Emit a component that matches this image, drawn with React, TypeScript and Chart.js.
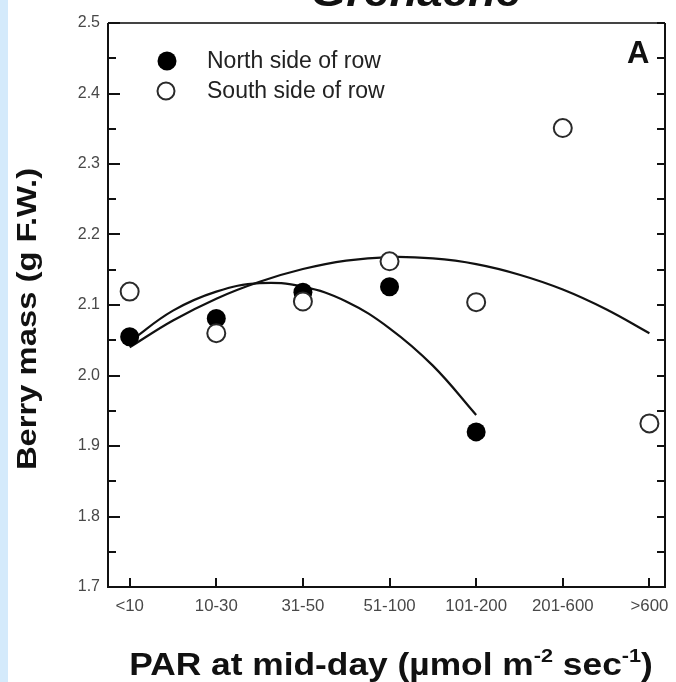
import React, { useEffect, useRef } from "react";
import { Chart, registerables } from "chart.js";

Chart.register(...registerables);

// PAR classes along the x axis
const CATEGORIES = ["<10", "10-30", "31-50", "51-100", "101-200", "201-600", ">600"];

// Mean berry mass (g F.W.) per PAR class
const NORTH_MASS = [2.055, 2.081, 2.118, 2.126, 1.92];
const SOUTH_MASS = [2.119, 2.06, 2.105, 2.162, 2.104, 2.351, 1.932];

// Fitted response curves, sampled at half-class steps
const NORTH_FIT_X = [0, 0.5, 1, 1.5, 2, 2.5, 3, 3.5, 4];
const NORTH_FIT = [2.048, 2.092, 2.119, 2.131, 2.126, 2.105, 2.067, 2.014, 1.944];
const SOUTH_FIT_X = [0, 0.5, 1, 1.5, 2, 2.5, 3, 3.5, 4, 4.5, 5, 5.5, 6];
const SOUTH_FIT = [2.04, 2.078, 2.109, 2.133, 2.151, 2.163, 2.168, 2.166, 2.158, 2.143, 2.122, 2.094, 2.06];

// Y axis ticks
const Y_MAJOR = [1.7, 1.8, 1.9, 2.0, 2.1, 2.2, 2.3, 2.4, 2.5];
const Y_MAJOR_LABELS = ["1.7", "1.8", "1.9", "2.0", "2.1", "2.2", "2.3", "2.4", "2.5"];
const Y_MINOR = [1.75, 1.85, 1.95, 2.05, 2.15, 2.25, 2.35, 2.45];

const LEGEND_LABELS = ["North side of row", "South side of row"];
const TITLE = "Grenache";
const PANEL = "A";
const Y_TITLE = "Berry mass (g F.W.)";

const FONT = "'Liberation Sans', Arial, Helvetica, sans-serif";

function stretchText(
  ctx: CanvasRenderingContext2D,
  text: string,
  x: number,
  y: number,
  sx: number,
  align: CanvasTextAlign
) {
  ctx.save();
  ctx.translate(x, y);
  ctx.scale(sx, 1);
  ctx.textAlign = align;
  ctx.fillText(text, 0, 0);
  ctx.restore();
}

const framePlugin = {
  id: "frame",
  beforeDraw(chart: any) {
    const ctx: CanvasRenderingContext2D = chart.ctx;
    ctx.save();
    ctx.fillStyle = "#ffffff";
    ctx.fillRect(0, 0, chart.width, chart.height);
    ctx.fillStyle = "#d4eafb";
    ctx.fillRect(0, 0, 8, chart.height);
    ctx.restore();
  },
  afterDraw(chart: any) {
    const ctx: CanvasRenderingContext2D = chart.ctx;
    const xs = chart.scales.x;
    const ys = chart.scales.y;
    const { left, right, top, bottom } = chart.chartArea;
    ctx.save();

    // plot frame
    ctx.strokeStyle = "#111";
    ctx.lineWidth = 2;
    ctx.beginPath();
    ctx.moveTo(left, top);
    ctx.lineTo(left, bottom);
    ctx.lineTo(right, bottom);
    ctx.lineTo(right, top);
    ctx.stroke();
    ctx.strokeStyle = "#444";
    ctx.beginPath();
    ctx.moveTo(left, top);
    ctx.lineTo(right, top);
    ctx.stroke();

    // inward ticks
    ctx.strokeStyle = "#111";
    ctx.lineWidth = 2;
    ctx.beginPath();
    Y_MAJOR.forEach((v) => {
      const py = Math.round(ys.getPixelForValue(v));
      ctx.moveTo(left, py);
      ctx.lineTo(left + 12, py);
      ctx.moveTo(right, py);
      ctx.lineTo(right - 8, py);
    });
    Y_MINOR.forEach((v) => {
      const py = Math.round(ys.getPixelForValue(v));
      ctx.moveTo(left, py);
      ctx.lineTo(left + 8, py);
      ctx.moveTo(right, py);
      ctx.lineTo(right - 8, py);
    });
    CATEGORIES.forEach((_, i) => {
      const px = Math.round(xs.getPixelForValue(i));
      ctx.moveTo(px, bottom);
      ctx.lineTo(px, bottom - 9);
    });
    ctx.stroke();

    // tick labels
    ctx.fillStyle = "#484848";
    ctx.font = `16px ${FONT}`;
    ctx.textBaseline = "middle";
    Y_MAJOR.forEach((v, i) => {
      stretchText(ctx, Y_MAJOR_LABELS[i], left - 8, ys.getPixelForValue(v), 1.0, "right");
    });
    CATEGORIES.forEach((c, i) => {
      stretchText(ctx, c, xs.getPixelForValue(i), bottom + 20, 1.05, "center");
    });

    // axis titles
    ctx.fillStyle = "#111";
    ctx.textBaseline = "alphabetic";
    ctx.font = `bold 28px ${FONT}`;
    ctx.save();
    ctx.translate(36, 319);
    ctx.rotate(-Math.PI / 2);
    ctx.scale(1.17, 1);
    ctx.textAlign = "center";
    ctx.fillText(Y_TITLE, 0, 0);
    ctx.restore();

    // x title with superscripts
    const sx = 1.14;
    const parts: [string, boolean][] = [
      ["PAR at mid-day (\u00b5mol m", false],
      ["-2", true],
      [" sec", false],
      ["-1", true],
      [")", false],
    ];
    const mainFont = `bold 31px ${FONT}`;
    const supFont = `bold 19px ${FONT}`;
    let total = 0;
    parts.forEach(([t, sup]) => {
      ctx.font = sup ? supFont : mainFont;
      total += ctx.measureText(t).width * sx;
    });
    let cx = 391 - total / 2;
    const base = 675;
    parts.forEach(([t, sup]) => {
      ctx.font = sup ? supFont : mainFont;
      stretchText(ctx, t, cx, sup ? base - 13 : base, sx, "left");
      cx += ctx.measureText(t).width * sx;
    });

    // chart title (runs off the top edge)
    ctx.font = `italic bold 40px ${FONT}`;
    stretchText(ctx, TITLE, 416, 6, 1.14, "center");

    // panel letter
    ctx.font = `bold 31px ${FONT}`;
    stretchText(ctx, PANEL, 627, 63, 1.0, "left");

    // legend
    ctx.fillStyle = "#000";
    ctx.beginPath();
    ctx.arc(167, 61, 9.5, 0, Math.PI * 2);
    ctx.fill();
    ctx.fillStyle = "#fff";
    ctx.strokeStyle = "#2a2a2a";
    ctx.lineWidth = 2;
    ctx.beginPath();
    ctx.arc(166, 91, 8.5, 0, Math.PI * 2);
    ctx.fill();
    ctx.stroke();
    ctx.fillStyle = "#222";
    ctx.font = `23px ${FONT}`;
    ctx.textBaseline = "middle";
    stretchText(ctx, LEGEND_LABELS[0], 207, 62, 1.0, "left");
    stretchText(ctx, LEGEND_LABELS[1], 207, 92, 1.0, "left");

    ctx.restore();
  },
};

export default function App() {
  const canvasRef = useRef<HTMLCanvasElement | null>(null);

  useEffect(() => {
    const canvas = canvasRef.current;
    if (!canvas) return;
    const toXY = (xs: number[], ys: number[]) => xs.map((x, i) => ({ x, y: ys[i] }));
    const chart = new Chart(canvas, {
      type: "scatter",
      data: {
        datasets: [
          {
            label: LEGEND_LABELS[1],
            data: toXY(SOUTH_MASS.map((_, i) => i), SOUTH_MASS),
            pointRadius: 9,
            pointBorderWidth: 2,
            pointBackgroundColor: "#ffffff",
            pointBorderColor: "#2a2a2a",
            order: 0,
          },
          {
            label: LEGEND_LABELS[0],
            data: toXY(NORTH_MASS.map((_, i) => i), NORTH_MASS),
            pointRadius: 9.5,
            pointBorderWidth: 0,
            pointBackgroundColor: "#000",
            pointBorderColor: "#000",
            order: 1,
          },
          {
            label: "North fit",
            data: toXY(NORTH_FIT_X, NORTH_FIT),
            showLine: true,
            pointRadius: 0,
            borderColor: "#111",
            borderWidth: 2.2,
            tension: 0.4,
            order: 2,
          },
          {
            label: "South fit",
            data: toXY(SOUTH_FIT_X, SOUTH_FIT),
            showLine: true,
            pointRadius: 0,
            borderColor: "#111",
            borderWidth: 2.2,
            tension: 0.4,
            order: 2,
          },
        ],
      },
      options: {
        animation: false,
        responsive: false,
        events: [],
        layout: { padding: { left: 108, top: 23, right: 3, bottom: 95 } },
        plugins: {
          legend: { display: false },
          tooltip: { enabled: false },
          title: { display: false },
        },
        scales: {
          x: { type: "linear", min: -0.25, max: 6.18, display: false },
          y: { type: "linear", min: 1.7, max: 2.5, display: false },
        },
      },
      plugins: [framePlugin],
    });
    return () => chart.destroy();
  }, []);

  return (
    <div style={{ position: "fixed", left: 0, top: 0, width: 676, height: 682, background: "#fff" }}>
      <canvas ref={canvasRef} width={676} height={682} style={{ display: "block" }} />
    </div>
  );
}
